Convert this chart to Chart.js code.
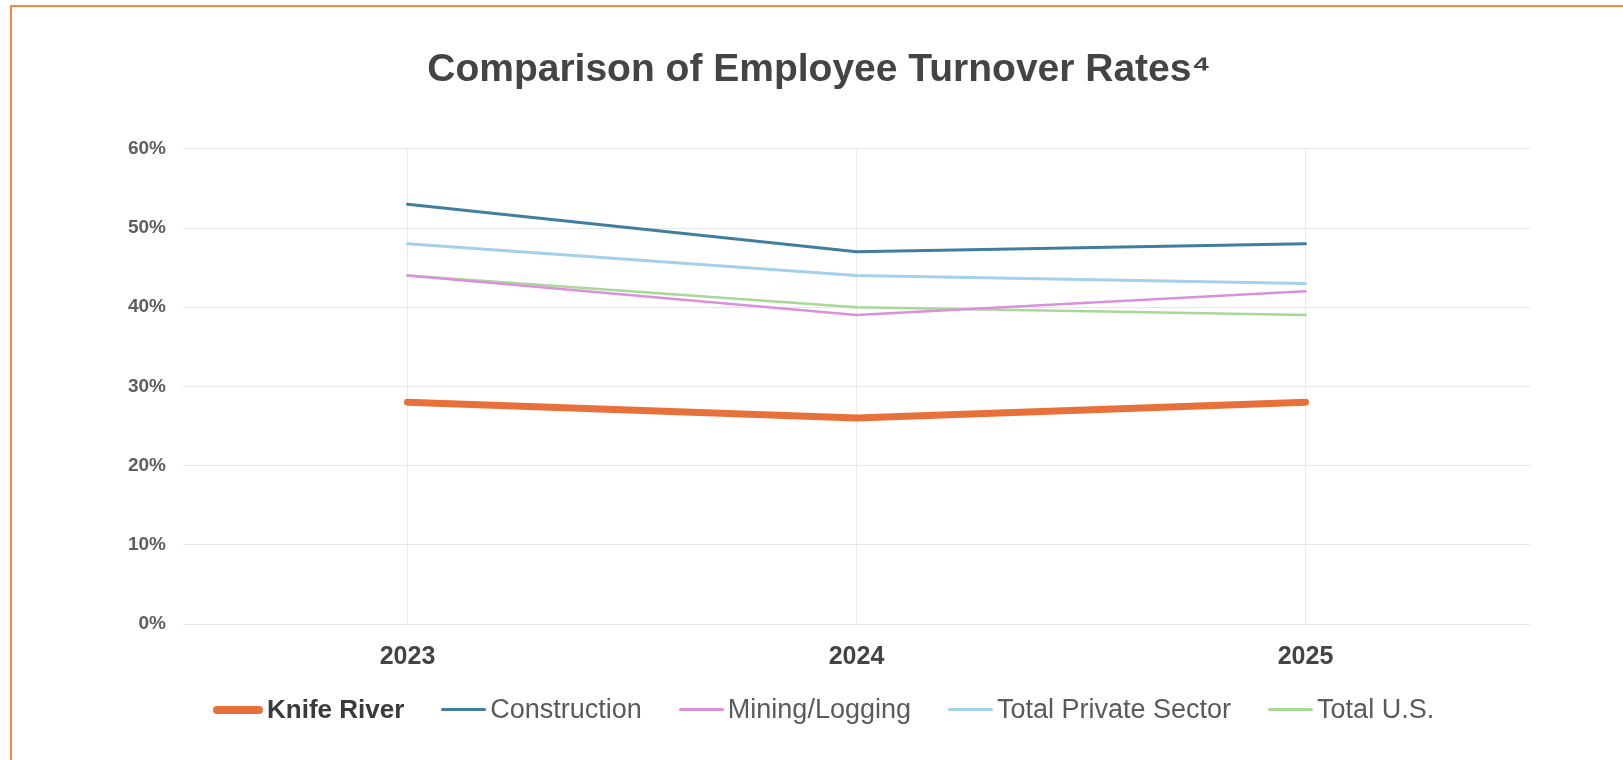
<!DOCTYPE html>
<html>
<head>
<meta charset="utf-8">
<script src="https://cdn.jsdelivr.net/npm/chart.js@4/dist/chart.umd.min.js"></script>
<style>
    html, body { margin: 0; padding: 0; background: #fff; }
    body { width: 1623px; height: 760px; position: relative; overflow: hidden; font-family: "Liberation Sans", Arial, sans-serif; }
    .frame {
        position: absolute; left: 10px; top: 5px; width: 1700px; height: 800px;
        border-top: 2px solid #f7873f; border-left: 2px solid #f7873f;
    }
    #chart { position: absolute; left: 0; top: 0; }
    .legend {
        position: absolute; left: 213px; top: 694px;
        display: flex; align-items: center; gap: 37px;
        font-size: 27px; color: #5a5a5a;
    }
    .legend-item { display: flex; align-items: center; gap: 4px; white-space: nowrap; }
    .legend-item .swatch { display: inline-block; border-radius: 4px; }
</style>
</head>
<body>
<div class="frame"></div>
<canvas id="chart" width="1623" height="760"></canvas>
<div class="legend" id="legend"></div>
<script>
// Chart data
const years = ['2023', '2024', '2025'];
const knifeRiver = [28, 26, 28];
const construction = [53, 47, 48];
const miningLogging = [44, 39, 42];
const totalPrivate = [48, 44, 43];
const totalUS = [44, 40, 39];
const yTicks = [0, 10, 20, 30, 40, 50, 60];

function series(label, data, color, width) {
    return {
        label: label,
        data: data,
        borderColor: color,
        backgroundColor: color,
        borderWidth: width,
        pointRadius: 0,
        pointHoverRadius: 0,
        tension: 0,
        borderCapStyle: 'round',
        borderJoinStyle: 'round'
    };
}

const datasets = [
    series('Knife River', knifeRiver, '#e8703a', 7),
    series('Construction', construction, '#3f7e9e', 3),
    series('Mining/Logging', miningLogging, '#dc8fdc', 2.5),
    series('Total Private Sector', totalPrivate, '#a3d0ea', 3),
    series('Total U.S.', totalUS, '#a7d996', 2.5)
];

const chart = new Chart(document.getElementById('chart'), {
    type: 'line',
    data: { labels: years, datasets: datasets },
    options: {
        responsive: false,
        animation: false,
        layout: { padding: { left: 108, right: 93, top: 0, bottom: 70 } },
        plugins: {
            legend: { display: false },
            tooltip: { enabled: false },
            title: {
                display: true,
                text: 'Comparison of Employee Turnover Rates\u2074',
                color: '#444',
                font: { family: '"Liberation Sans", Arial, sans-serif', size: 39, weight: 'bold' },
                padding: { top: 47, bottom: 55 }
            }
        },
        scales: {
            x: {
                offset: true,
                grid: { offset: false, color: '#ebebeb', drawTicks: false },
                border: { display: false },
                ticks: {
                    padding: 18,
                    color: '#444',
                    font: { family: '"Liberation Sans", Arial, sans-serif', size: 25, weight: 'bold' }
                }
            },
            y: {
                min: 0,
                max: 60,
                afterFit: scale => { scale.width = 75; },
                afterBuildTicks: scale => { scale.ticks = yTicks.map(v => ({ value: v })); },
                grid: { color: '#e6e6e6', drawTicks: false },
                border: { display: false },
                ticks: {
                    padding: 17,
                    color: '#5e5e5e',
                    font: { family: '"Liberation Sans", Arial, sans-serif', size: 19, weight: 'bold' },
                    callback: v => v + '%'
                }
            }
        }
    }
});

// Legend built from the chart's datasets
const legendEl = document.getElementById('legend');
chart.data.datasets.forEach((ds, i) => {
    const item = document.createElement('div');
    item.className = 'legend-item';
    const swatch = document.createElement('span');
    swatch.className = 'swatch';
    swatch.style.width = i === 0 ? '50px' : '45px';
    swatch.style.height = i === 0 ? '8px' : '3px';
    swatch.style.background = ds.borderColor;
    const text = document.createElement('span');
    text.innerText = ds.label;
    if (i === 0) {
        text.style.fontWeight = 'bold';
        text.style.fontSize = '26px';
        text.style.color = '#3a3a3a';
    }
    item.appendChild(swatch);
    item.appendChild(text);
    legendEl.appendChild(item);
});
</script>
</body>
</html>
